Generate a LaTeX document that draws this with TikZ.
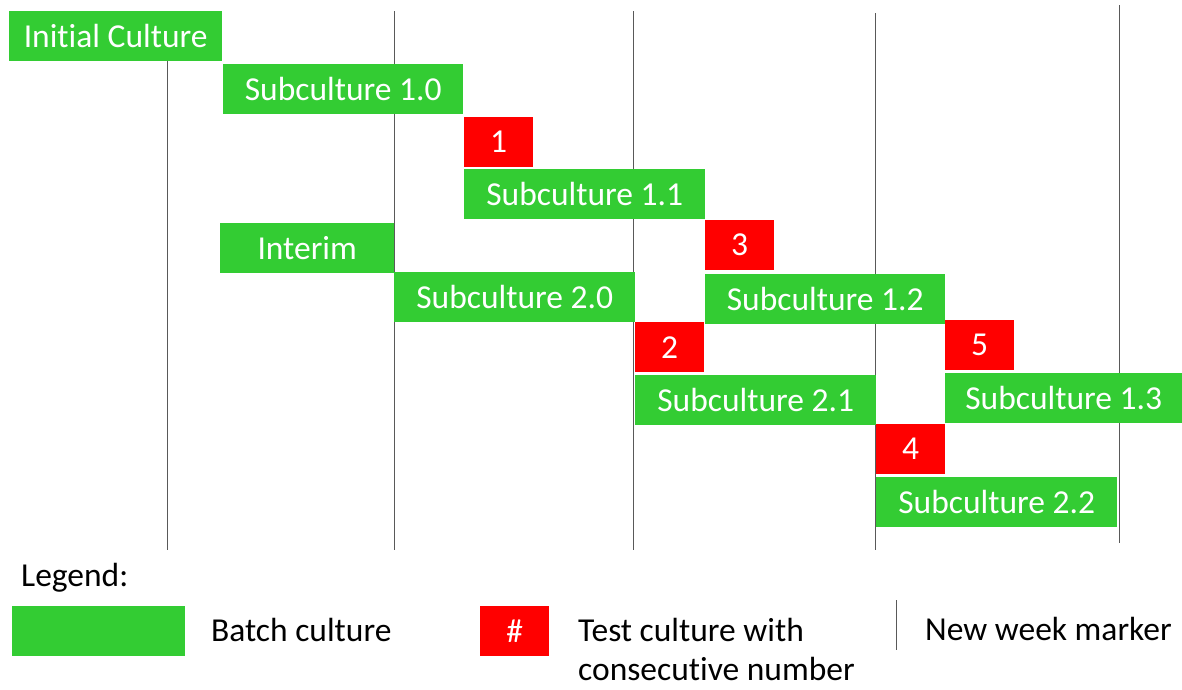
\documentclass[tikz,border=0pt]{standalone}
\usepackage{fontspec}
\setmainfont{Carlito}[Ligatures=NoCommon]
\usetikzlibrary{positioning}
\definecolor{batchgreen}{RGB}{51,204,51}
\definecolor{testred}{RGB}{255,0,0}
\tikzset{
  batch/.style={fill=batchgreen, text=white, anchor=north west, minimum height=50, inner sep=0pt, font=\fontsize{33.5}{40}\selectfont},
  test/.style={batch, fill=testred, minimum width=69},
  keytext/.style={anchor=west, inner sep=0pt, font=\fontsize{33.5}{39}\selectfont},
  week/.style={gray!70!black, line width=0.9pt}
}
\begin{document}
\begin{tikzpicture}[x=1pt, y=-1pt]
\useasboundingbox (0,0) rectangle (1182,689);
% new week markers
\foreach \wx/\wtop/\wbot in {167/61/550, 394/11/550, 633/11/550, 875/13/550, 1119/5/543}
  \draw[week] (\wx,\wtop) -- (\wx,\wbot);
% cultures
\node[batch, minimum width=213] (init) at (9,11) {Initial Culture};
\node[batch, minimum width=240] (sub10) at (223,64) {Subculture 1.0};
\node[test] (t1) at (464,117) {1};
\node[batch, minimum width=241] (sub11) at (464,169) {Subculture 1.1};
\node[batch, minimum width=174] (interim) at (220,223) {Interim};
\node[batch, minimum width=241] (sub20) at (394,272) {Subculture 2.0};
\node[test] (t3) at (705,220) {3};
\node[batch, minimum width=240] (sub12) at (705,274) {Subculture 1.2};
\node[test] (t2) at (635,322) {2};
\node[test] (t5) at (945,320) {5};
\node[batch, minimum width=241] (sub21) at (635,375) {Subculture 2.1};
\node[batch, minimum width=237] (sub13) at (945,373) {Subculture 1.3};
\node[test] (t4) at (876,424) {4};
\node[batch, minimum width=241] (sub22) at (876,477) {Subculture 2.2};
% legend
\node[keytext] (legend) at (21,578) {Legend:};
\node[batch, minimum width=173] (keybatch) at (12,606) {};
\node[keytext] (keybatchtext) at (211,630) {Batch culture};
\node[test] (keytest) at (480,606) {\#};
\node[keytext, anchor=north west, align=left] (keytesttext) at (578,618) {Test culture with\\consecutive number};
\draw[week] (896,600) -- (896,650);
\node[keytext] (keyweektext) at (925,629) {New week marker};
\end{tikzpicture}
\end{document}
